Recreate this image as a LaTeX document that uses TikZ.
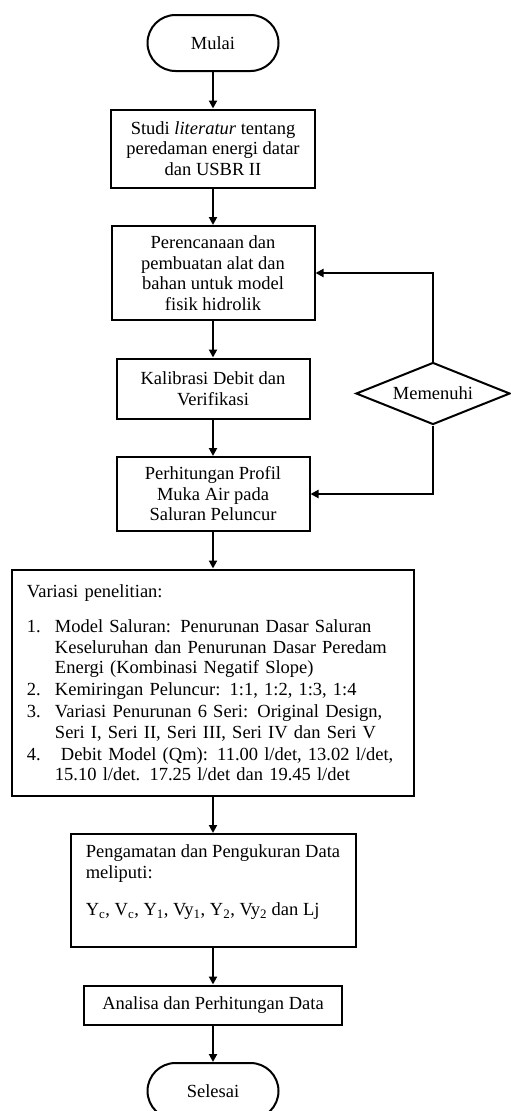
\documentclass[tikz,border=0pt]{standalone}
\usepackage{fontspec}
\setmainfont{Liberation Serif}
\usepackage{tikz}
\usetikzlibrary{arrows.meta, positioning, shapes.geometric}

\newcommand{\numitem}[1]{\makebox[28pt][l]{#1}}

\begin{document}
\begin{tikzpicture}[node distance=36.5pt,
                    font=\fontsize{18.5}{20.5}\selectfont,
                    >={Triangle[length=8pt,width=8pt]},
                    terminal/.style={rectangle, draw, line width=2pt, rounded corners=28pt, minimum width=131pt, minimum height=56pt},
                    block/.style={rectangle, draw, line width=2pt, align=center, inner sep=3pt},
                    decision/.style={diamond, draw, line width=2pt, aspect=2.4, minimum width=154pt, minimum height=62pt, inner sep=0pt},
                    line/.style={->, line width=2pt}]
  \useasboundingbox (0,0) rectangle (511pt,-1111pt);
  \node[terminal] (mulai) at (213pt,-43pt) {Mulai};
  \node[block, below=of mulai, minimum width=204pt, minimum height=78pt] (studi)
    {Studi \textit{literatur} tentang\\ peredaman energi datar\\ dan USBR II};
  \node[block, below=of studi, minimum width=203pt, minimum height=94pt] (perencanaan)
    {Perencanaan dan\\ pembuatan alat dan\\ bahan untuk model\\ fisik hidrolik};
  \node[block, below=of perencanaan, minimum width=193pt, minimum height=60pt] (kalibrasi)
    {Kalibrasi Debit dan\\ Verifikasi};
  \node[block, below=of kalibrasi, minimum width=193pt, minimum height=74pt] (perhitungan)
    {Perhitungan Profil\\ Muka Air pada\\ Saluran Peluncur};
  \node[block, below=of perhitungan, align=left, text width=372pt, inner xsep=15pt, inner ysep=0pt, minimum height=226pt] (variasi)
    {Variasi penelitian:\\[15pt]
     \numitem{1.}Model Saluran: Penurunan Dasar Saluran\\
     \hspace*{28pt}Keseluruhan dan Penurunan Dasar Peredam\\
     \hspace*{28pt}Energi (Kombinasi Negatif Slope)\\[1.5pt]
     \numitem{2.}Kemiringan Peluncur: 1:1, 1:2, 1:3, 1:4\\[1.5pt]
     \numitem{3.}Variasi Penurunan 6 Seri: Original Design,\\
     \hspace*{28pt}Seri I, Seri II, Seri III, Seri IV dan Seri V\\[1.5pt]
     \numitem{4.}\hspace*{6pt}Debit Model (Qm): 11.00 l/det, 13.02 l/det,\\
     \hspace*{28pt}15.10 l/det. 17.25 l/det dan 19.45 l/det};
  \node[block, below=of variasi, align=left, minimum width=285pt, minimum height=113pt] (pengamatan)
    {Pengamatan dan Pengukuran Data\\ meliputi:\\[17pt]
     Y\textsubscript{c}, V\textsubscript{c}, Y\textsubscript{1}, Vy\textsubscript{1}, Y\textsubscript{2}, Vy\textsubscript{2} dan Lj\\ \mbox{}};
  \node[block, below=of pengamatan, minimum width=258pt, minimum height=39pt] (analisa)
    {Analisa dan Perhitungan Data};
  \node[terminal, below=of analisa] (selesai) {Selesai};
  \node[decision, right=44.5pt of kalibrasi, yshift=-5pt] (memenuhi) {Memenuhi};

  \draw[line] (mulai) -- (studi);
  \draw[line] (studi) -- (perencanaan);
  \draw[line] (perencanaan) -- (kalibrasi);
  \draw[line] (kalibrasi) -- (perhitungan);
  \draw[line] (perhitungan) -- (variasi);
  \draw[line] (variasi) -- (pengamatan);
  \draw[line] (pengamatan) -- (analisa);
  \draw[line] (analisa) -- (selesai);
  \draw[line] (memenuhi.north) |- (perencanaan.east);
  \draw[line] (memenuhi.south) |- (perhitungan.east);
\end{tikzpicture}
\end{document}
